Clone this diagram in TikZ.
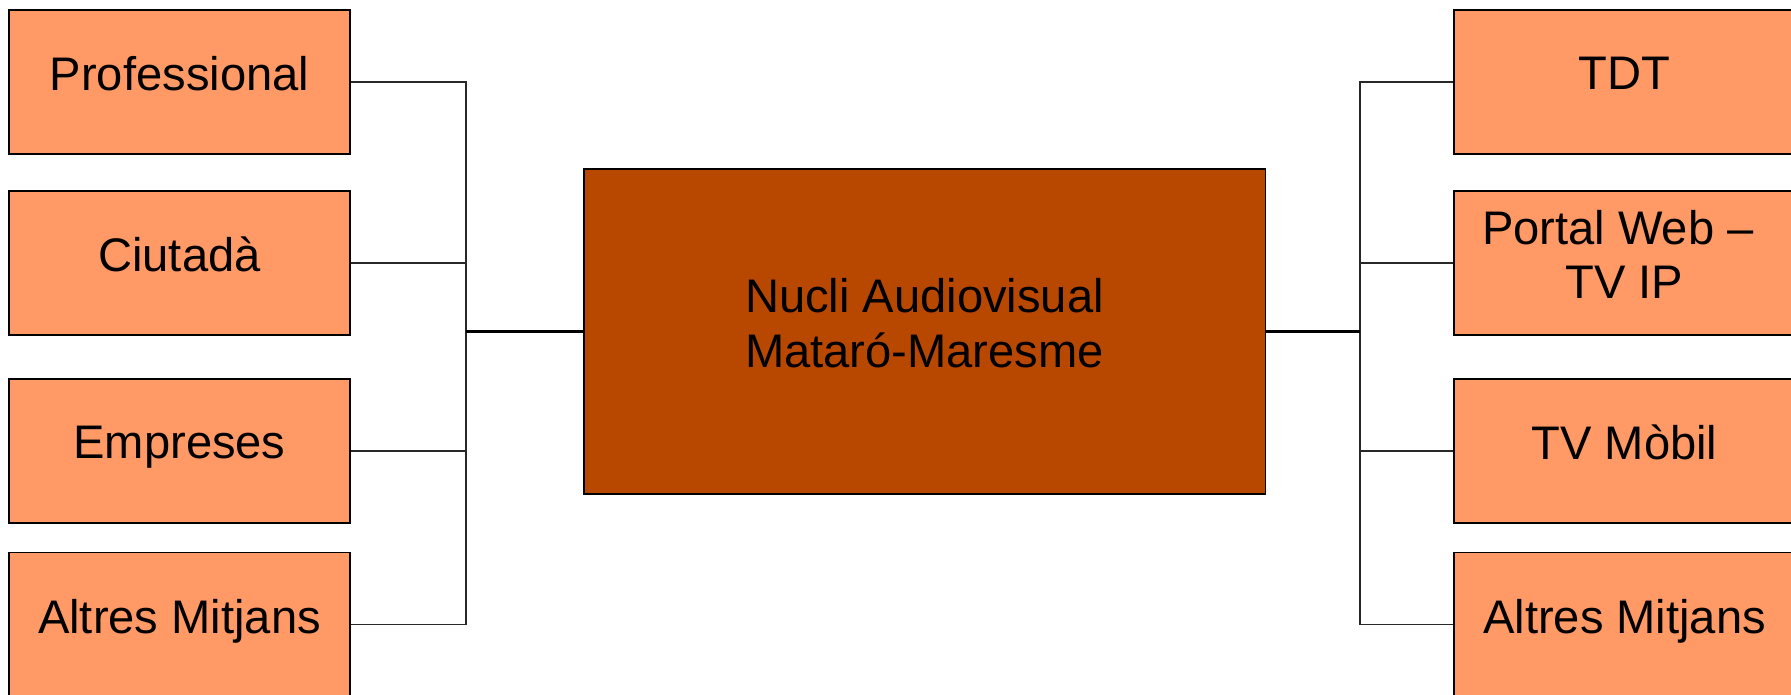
\documentclass[tikz,border=0pt]{standalone}
\usepackage{fontspec}
\setmainfont{Liberation Sans}
\usepackage{xcolor}
\usetikzlibrary{
    positioning
}
\newcommand{\labelfont}{\fontsize{13.4pt}{15.5pt}\selectfont}
\definecolor{boxSalmon}{RGB}{255,153,102}
\definecolor{coreRust}{RGB}{184,71,0}
\definecolor{wireGray}{RGB}{40,40,40}
\tikzset{
  leaf/.style  = {draw, line width=0.4pt, fill=boxSalmon, minimum width=3.41cm,
                  minimum height=1.44cm, inner sep=0pt, align=center,
                  text depth=0.17cm, font=\labelfont},
  core/.style  = {draw, line width=0.4pt, fill=coreRust, minimum width=6.81cm,
                  minimum height=3.25cm, inner sep=0pt, align=center,
                  text depth=0.17cm, font=\labelfont},
  wire/.style  = {draw=wireGray, line width=0.4pt},
  trunk/.style = {draw=black, line width=0.65pt}
}

\begin{document}
\begin{tikzpicture}[x=0.01cm, y=-0.01cm]

\path[use as bounding box, clip] (0,0) rectangle (1791,695);

% audiences (left)
\node[leaf] (l1) at (179.5,82) {Professional};
\node[leaf] (l2) at (179.5,263) {Ciutadà};
\node[leaf] (l3) at (179.5,451) {Empreses};
\node[leaf] (l4) at (179.5,624.5) {Altres Mitjans};

% central node
\node[core] (core) at (924.5,331.5) {Nucli Audiovisual\\Mataró-Maresme};

% channels (right)
\node[leaf] (r1) at (1624.5,82) {TDT};
\node[leaf] (r2) at (1624.5,263) {Portal Web –\hspace*{0.28em}\\TV IP};
\node[leaf] (r3) at (1624.5,451) {TV Mòbil};
\node[leaf] (r4) at (1624.5,624.5) {Altres Mitjans};

% junctions
\coordinate[left=1.17cm of core.west] (jl);
\coordinate[right=0.94cm of core.east] (jr);

% left bus
\draw[wire] (l1.east) -| (jl);
\draw[wire] (l2.east) -| (jl);
\draw[wire] (l3.east) -| (jl);
\draw[wire] (l4.east) -| (jl);
\draw[trunk] (jl) -- (core.west);

% right bus
\draw[wire] (r1.west) -| (jr);
\draw[wire] (r2.west) -| (jr);
\draw[wire] (r3.west) -| (jr);
\draw[wire] (r4.west) -| (jr);
\draw[trunk] (core.east) -- (jr);

\end{tikzpicture}
\end{document}
